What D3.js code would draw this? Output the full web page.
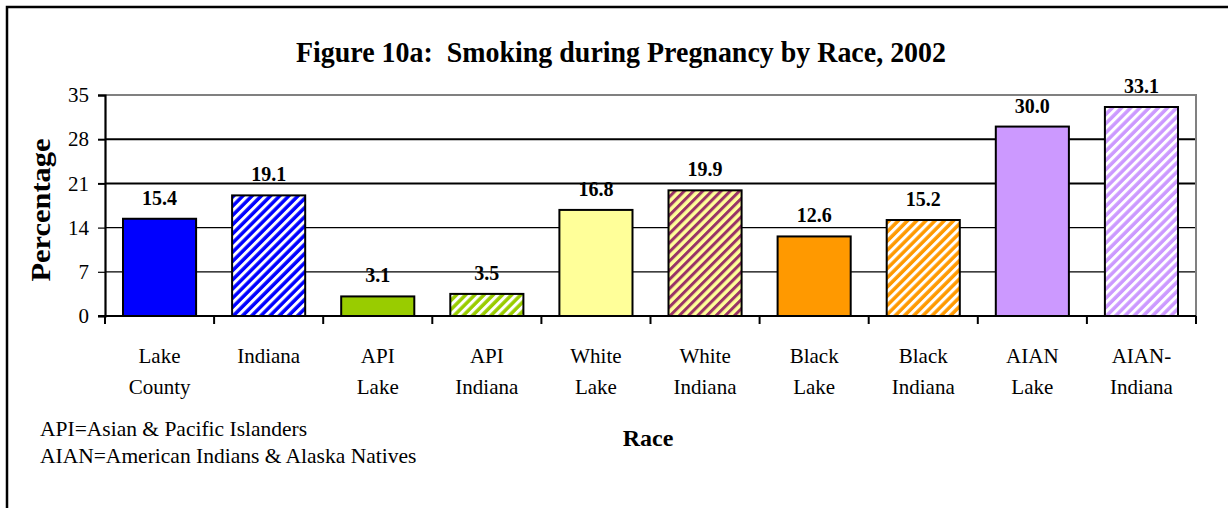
<!DOCTYPE html>
<html>
<head>
<meta charset="utf-8">
<script src="https://cdn.jsdelivr.net/npm/d3@7"></script>
<style>
  html, body { margin: 0; padding: 0; background: #fff; }
  svg { display: block; }
</style>
</head>
<body>
<svg id="chart" width="1228" height="508"></svg>
<script>
// Smoking during pregnancy by race, 2002 (percent)
const categories = [
  ["Lake", "County"], ["Indiana"], ["API", "Lake"], ["API", "Indiana"],
  ["White", "Lake"], ["White", "Indiana"], ["Black", "Lake"], ["Black", "Indiana"],
  ["AIAN", "Lake"], ["AIAN-", "Indiana"]
];
const values = [15.4, 19.1, 3.1, 3.5, 16.8, 19.9, 12.6, 15.2, 30.0, 33.1];
const yTicks = [0, 7, 14, 21, 28, 35];
// fill colour, stripe colour (null = solid)
const fills = ["#0000FF", "#0000FF", "#99CC00", "#99CC00", "#FFFF99", "#FFFF99", "#FF9900", "#FF9900", "#CC99FF", "#CC99FF"];
const stripes = [null, "#FFFFFF", null, "#FFFFFF", null, "#993366", null, "#FFFFFF", null, "#FFFFFF"];
const notes = ["API=Asian & Pacific Islanders", "AIAN=American Indians & Alaska Natives"];

const SERIF = "'Liberation Serif', 'Times New Roman', Times, serif";
const svg = d3.select("#chart").style("font-family", SERIF);
const plot = { left: 105, right: 1196, top: 95, bottom: 316 };

// outer frame (runs off the right and bottom edges)
svg.append("rect")
  .attr("x", 7).attr("y", 7).attr("width", 1240).attr("height", 520)
  .attr("fill", "none").attr("stroke", "#000").attr("stroke-width", 2.5);

// striped patterns
const defs = svg.append("defs");
fills.forEach((f, i) => {
  if (!stripes[i]) return;
  const p = defs.append("pattern")
    .attr("id", "pat" + i)
    .attr("patternUnits", "userSpaceOnUse")
    .attr("width", 6.5).attr("height", 6.5)
    .attr("patternTransform", "rotate(45)");
  p.append("rect").attr("width", 6.5).attr("height", 6.5).attr("fill", f);
  p.append("rect").attr("x", 0).attr("width", 3).attr("height", 6.5).attr("fill", stripes[i]);
});

const x = d3.scaleBand()
  .domain(d3.range(categories.length))
  .range([plot.left, plot.right])
  .paddingInner(0.33).paddingOuter(0.165);
const xb = d3.scaleLinear().domain([0, categories.length]).range([plot.left, plot.right]);
const y = d3.scaleLinear().domain([0, 35]).range([plot.bottom, plot.top]);

// gridlines
svg.append("g").selectAll("line")
  .data(yTicks.filter(t => t > 0 && t < 35))
  .join("line")
  .attr("x1", plot.left).attr("x2", plot.right)
  .attr("y1", d => y(d)).attr("y2", d => y(d))
  .attr("stroke", "#000")
  .attr("stroke-width", d => d >= 21 ? 2 : 1.2);

// plot border (top and right)
svg.append("path")
  .attr("d", `M${plot.left},${y(35)}H${plot.right}V${plot.bottom}`)
  .attr("fill", "none").attr("stroke", "#808080").attr("stroke-width", 2);

// bars
svg.append("g").selectAll("rect")
  .data(values)
  .join("rect")
  .attr("x", (d, i) => x(i))
  .attr("width", x.bandwidth())
  .attr("y", d => y(d))
  .attr("height", d => y(0) - y(d))
  .attr("fill", (d, i) => stripes[i] ? `url(#pat${i})` : fills[i])
  .attr("stroke", "#000").attr("stroke-width", 2);

// value labels
svg.append("g").selectAll("text")
  .data(values)
  .join("text")
  .attr("x", (d, i) => x(i) + x.bandwidth() / 2)
  .attr("y", d => y(d) - 14)
  .attr("text-anchor", "middle")
  .style("font-family", SERIF)
  .attr("font-size", 20).attr("font-weight", "bold")
  .text(d => d.toFixed(1));

// y axis
const yAxis = svg.append("g").attr("transform", `translate(${plot.left},0)`)
  .call(d3.axisLeft(y).tickValues(yTicks).tickSize(7).tickPadding(9).tickFormat(d3.format("d")));
yAxis.attr("font-family", null);
yAxis.select(".domain").attr("stroke", "#000").attr("stroke-width", 2.2);
yAxis.selectAll(".tick line").attr("stroke", "#000").attr("stroke-width", d => d >= 21 ? 2 : 1.2);
yAxis.selectAll(".tick text")
  .attr("font-size", 21).attr("fill", "#000")
  .style("font-family", SERIF);

// x axis line and boundary ticks
svg.append("line")
  .attr("x1", plot.left - 7).attr("x2", plot.right)
  .attr("y1", y(0)).attr("y2", y(0))
  .attr("stroke", "#000").attr("stroke-width", 2.2);
svg.append("g").selectAll("line")
  .data(d3.range(categories.length + 1))
  .join("line")
  .attr("x1", d => xb(d)).attr("x2", d => xb(d))
  .attr("y1", y(0)).attr("y2", y(0) + 8)
  .attr("stroke", "#000").attr("stroke-width", 2);

// category labels
svg.append("g").selectAll("text")
  .data(categories)
  .join("text")
  .attr("x", (d, i) => x(i) + x.bandwidth() / 2)
  .attr("y", 363)
  .attr("text-anchor", "middle")
  .style("font-family", SERIF)
  .attr("font-size", 21)
  .each(function (d) {
    const t = d3.select(this);
    d.forEach((line, k) => {
      t.append("tspan")
        .attr("x", t.attr("x"))
        .attr("dy", k === 0 ? 0 : 31)
        .text(line);
    });
  });

// title
svg.append("text")
  .attr("x", 621).attr("y", 62)
  .attr("text-anchor", "middle")
  .style("font-family", SERIF)
  .attr("font-size", 30).attr("font-weight", "bold")
  .attr("textLength", 650).attr("lengthAdjust", "spacingAndGlyphs")
  .style("white-space", "pre")
  .text("Figure 10a:  Smoking during Pregnancy by Race, 2002");

// axis titles
svg.append("text")
  .attr("transform", "translate(50,210) rotate(-90)")
  .attr("text-anchor", "middle")
  .style("font-family", SERIF)
  .attr("font-size", 28).attr("font-weight", "bold")
  .attr("textLength", 143).attr("lengthAdjust", "spacingAndGlyphs")
  .text("Percentage");

svg.append("text")
  .attr("x", 648).attr("y", 446)
  .attr("text-anchor", "middle")
  .style("font-family", SERIF)
  .attr("font-size", 24).attr("font-weight", "bold")
  .text("Race");

// footnotes
svg.append("g").selectAll("text")
  .data(notes)
  .join("text")
  .attr("x", 40)
  .attr("y", (d, i) => 436 + i * 27)
  .style("font-family", SERIF)
  .attr("font-size", 21.5)
  .text(d => d);
</script>
</body>
</html>
